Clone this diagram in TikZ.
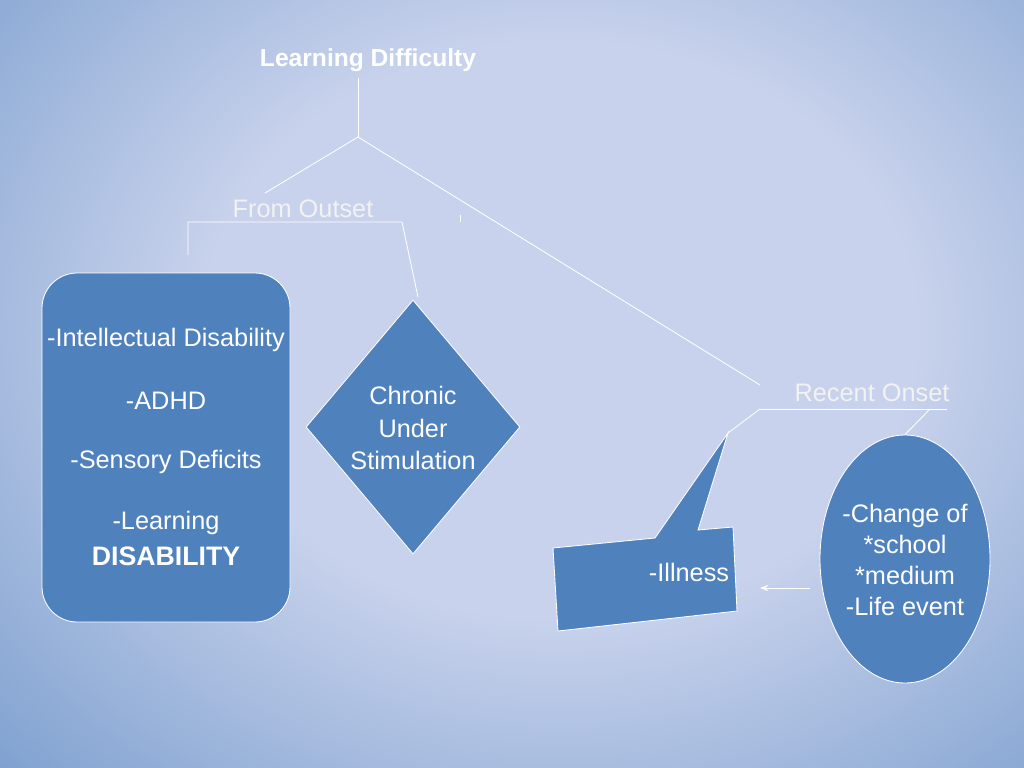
\documentclass[tikz,border=0pt]{standalone}
\usepackage{fontspec}
\setmainfont{Liberation Sans}
\usetikzlibrary{shapes.geometric,arrows.meta,positioning}
\definecolor{boxblue}{RGB}{79,129,189}
\definecolor{bgdark}{RGB}{26,40,105}
\definecolor{bglight}{RGB}{200,210,236}
\tikzset{
  label/.style={text=white,font=\fontsize{18}{22}\selectfont,align=center},
  dlabel/.style={text=white!95!black,font=\fontsize{18}{22}\selectfont},
  conn/.style={draw=white,line width=0.6pt},
  shapebox/.style={fill=boxblue,draw=white,line width=0.6pt}
}
\pgfdeclareradialshading{glow}{\pgfpoint{0bp}{0bp}}{%
  color(0bp)=(bglight); color(12bp)=(bglight); color(30bp)=(boxblue!75!bglight);
  color(44bp)=(bgdark!70!boxblue); color(50bp)=(bgdark)}
\begin{document}
\begin{tikzpicture}[x=0.025cm,y=-0.025cm]
  \useasboundingbox (0,0) rectangle (1024,768);
  \fill[bgdark] (0,0) rectangle (1024,768);
  \shade[shading=glow] (-180,-270) rectangle (1300,930);
  % headings
  \node (title) [text=white,font=\bfseries\fontsize{17.5}{21}\selectfont] at (368,60) {Learning Difficulty};
  \coordinate (fork) at (358,137);
  \coordinate (titlefoot) at (358,78);
  \coordinate (leftend) at (265,193);
  \coordinate (rightend) at (760,385);
  \draw[conn] (titlefoot) -- (fork);
  \draw[conn] (fork) -- (leftend);
  \draw[conn] (fork) -- (rightend);
  \node (outset) [dlabel] at (303,209) {From Outset};
  \coordinate (oleft) at (188,222);
  \coordinate (oright) at (402,222);
  \draw[conn] (oleft |- 0,255) -- (oleft) -- (oright) -- (418,297);
  \draw[conn] (460,215) -- (460,222);
  % boxes
  \node (causes) [shapebox,rounded corners=25pt,minimum width=248*0.025cm,minimum height=349*0.025cm] at (166,447.5) {};
  \node[label] at (166,340) {-Intellectual Disability};
  \node[label] at (166,401) {-ADHD};
  \node[label] at (166,462) {-Sensory Deficits};
  \node[label] at (166,523) {-Learning};
  \node[label,font=\bfseries\fontsize{19}{22}\selectfont] at (166,556) {DISABILITY};
  \node (chronic) [shapebox,diamond,minimum width=214*0.025cm,minimum height=254*0.025cm,inner sep=0pt] at (413,427) {};
  \node[label,font=\fontsize{18}{23}\selectfont] at (413,428) {Chronic\\Under\\Stimulation};
  \node (recent) [dlabel] at (872,393) {Recent Onset};
  \coordinate (rleft) at (760,409);
  \coordinate (rright) at (947,409);
  \draw[conn] (rleft) -- (rright);
  \draw[conn] (rleft) -- (728,433);
  \node (change) [shapebox,ellipse,minimum width=170*0.025cm,minimum height=248*0.025cm] at (905,559) {};
  \draw[conn] (930,409) -- (change.north);
  \node[label,font=\fontsize{18}{22}\selectfont] at (905,560) {-Change of\\*school\\*medium\\-Life event};
  \draw[shapebox] (553,548) -- (655,538) -- (728,433) -- (698,530) -- (733,527) -- (737,611) -- (558,631) -- cycle;
  \node (illness) [label] at (689,572) {-Illness};
  \draw[conn,-{Stealth[length=6pt]}] (810,588) -- (760,588);
\end{tikzpicture}
\end{document}
